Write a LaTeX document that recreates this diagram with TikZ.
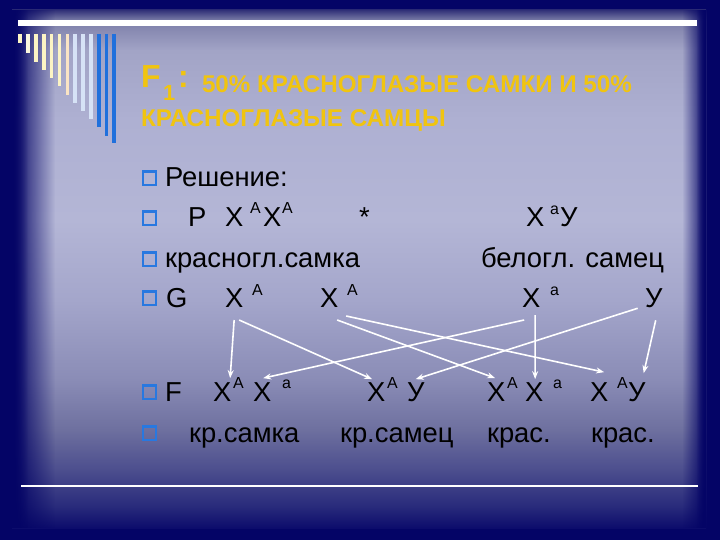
\documentclass[tikz,border=0pt]{standalone}
\usepackage{fontspec}
\setmainfont{Liberation Sans}
\usetikzlibrary{arrows.meta,fadings}
\definecolor{navy}{RGB}{4,4,102}
\definecolor{gold}{RGB}{240,196,16}
\definecolor{bulblue}{RGB}{40,120,224}
\definecolor{cA}{RGB}{12,12,108}
\definecolor{cB}{RGB}{42,44,124}
\definecolor{cC}{RGB}{76,78,142}
\definecolor{cD}{RGB}{110,112,159}
\definecolor{cE}{RGB}{138,140,182}
\definecolor{cF}{RGB}{164,166,203}
\definecolor{cG}{RGB}{180,182,214}
\definecolor{cH}{RGB}{174,176,210}
\definecolor{cI}{RGB}{162,164,198}
\definecolor{cJ}{RGB}{124,126,168}
\definecolor{cK}{RGB}{48,48,120}
\definecolor{stw}{RGB}{252,248,222}
\definecolor{stc}{RGB}{252,244,196}
\definecolor{stp}{RGB}{250,228,196}
\definecolor{stl}{RGB}{214,226,246}
\definecolor{stb}{RGB}{32,112,220}
\pgfdeclareverticalshading{bgv}{100bp}{color(0bp)=(cA); color(25bp)=(cA); color(27.2bp)=(cB); color(30.6bp)=(cC); color(34.5bp)=(cD); color(39.3bp)=(cE); color(47bp)=(cF); color(54.7bp)=(cG); color(64.4bp)=(cH); color(71.1bp)=(cI); color(74bp)=(cJ); color(75bp)=(cK); color(100bp)=(cK)}
\tikzset{
  txt/.style={anchor=base west, inner sep=0, outer sep=0, font=\fontsize{27.5}{32}\selectfont, text=black},
  sup/.style={anchor=base west, inner sep=0, outer sep=0, font=\fontsize{16}{19}\selectfont, text=black},
  ttl/.style={anchor=base west, inner sep=0, outer sep=0, font=\bfseries\fontsize{24.3}{28}\selectfont, text=gold},
  bul/.style={draw=bulblue, line width=2.2bp, minimum size=13.5bp, inner sep=0},
  arr/.style={draw=white, line width=1.6bp, -{Stealth[length=8bp,width=6bp]}},
  stripe/.style={line width=3.6bp}
}
\begin{document}
\begin{tikzpicture}[x=1bp,y=-1bp]
\useasboundingbox (0,0) rectangle (720,540);
% background frame
\fill[navy] (0,0) rectangle (720,540);
\shade[shading=bgv] (12,10) rectangle (706,528);
\fill[navy, path fading=east] (12,10) rectangle (55,528);
\fill[navy, path fading=east] (12,10) rectangle (28,528);
\fill[navy, path fading=west] (682,10) rectangle (706,528);
\fill[navy, path fading=west] (696,10) rectangle (706,528);
% top bar and stripes
\fill[white] (18,20.5) rectangle (697,26.5);
\foreach \xx/\yy/\cc in {20/43/stc,28/53/stw,36/62/stc,44/70/stc,51.5/78/stc,59.5/86/stc,67.5/95/stp,75/103/stl,83/111/stl,91/119/stl,99/127/stb,106.5/136/stb,114/143/stb}
  \draw[stripe,\cc] (\xx,34) -- (\xx,\yy);
% bottom line
\draw[white, line width=1.3bp] (21,486) -- (698,486);
% title
\node[anchor=base west, inner sep=0, font=\bfseries\fontsize{32}{38}\selectfont, text=gold] (tF) at (141,88) {F};
\node[anchor=base west, inner sep=0, font=\bfseries\fontsize{22}{26}\selectfont, text=gold] (t1) at (163,101) {1};
\node[anchor=base west, inner sep=0, font=\bfseries\fontsize{32}{38}\selectfont, text=gold] (tc) at (178,88) {:};
\node[ttl] (tl1) at (202,93) {50\% КРАСНОГЛАЗЫЕ САМКИ И 50\%};
\node[ttl] (tl2) at (141,127) {КРАСНОГЛАЗЫЕ САМЦЫ};
% bullets
\node[bul] (b1) at (149.5,178.3) {};
\node[bul] (b2) at (149.5,218.3) {};
\node[bul] (b3) at (149.5,259.3) {};
\node[bul] (b4) at (149.5,298.3) {};
\node[bul] (b5) at (149.5,392.3) {};
\node[bul] (b6) at (149.5,433.3) {};
% row 1
\node[txt] (r1) at (165,187) {Решение:};
% row 2
\node[txt] (pP) at (188,227) {P};
\node[txt] (pX1) at (225,227) {X};
\node[sup] (pA1) at (250,214) {A};
\node[txt] (pX2) at (263,227) {X};
\node[sup] (pA2) at (282,214) {A};
\node[txt] (ast) at (359,227) {*};
\node[txt] (pX3) at (526,227) {X};
\node[sup] (pa3) at (550,215) {а};
\node[txt] (pY) at (560,227) {У};
% row 3
\node[txt] (r3a) at (165,268) {красногл.самка};
\node[txt] (r3b) at (481,268) {белогл. самец};
% row 4 gametes
\node[txt] (gG) at (166,307) {G};
\node[txt] (gX1) at (225,307) {X};
\node[sup] (gA1) at (252,295) {A};
\node[txt] (gX2) at (320,307) {X};
\node[sup] (gA2) at (347,295) {A};
\node[txt] (gXa) at (522,307) {X};
\node[sup] (gaa) at (550,295) {а};
\node[txt] (gY) at (645,307) {У};
% row 5 offspring
\node[txt] (fF) at (165,401) {F};
\node[txt] (f1X1) at (213,401) {X};
\node[sup] (f1A) at (233,388) {A};
\node[txt] (f1X2) at (253,401) {X};
\node[sup] (f1a) at (282,388) {а};
\node[txt] (f2X) at (367,401) {X};
\node[sup] (f2A) at (387,388) {A};
\node[txt] (f2Y) at (407,401) {У};
\node[txt] (f3X1) at (487,401) {X};
\node[sup] (f3A) at (507,388) {A};
\node[txt] (f3X2) at (525,401) {X};
\node[sup] (f3a) at (553,388) {а};
\node[txt] (f4X) at (590,401) {X};
\node[sup] (f4A) at (617,388) {A};
\node[txt] (f4Y) at (628,401) {У};
% row 6
\node[txt] (p1) at (189,442) {кр.самка};
\node[txt] (p2) at (340,442) {кр.самец};
\node[txt] (p3) at (487,442) {крас.};
\node[txt] (p4) at (591,442) {крас.};
% arrows
\draw[arr] ([yshift=-13bp]gX1.south) -- ([xshift=8bp,yshift=4bp]f1X1.north);
\draw[arr] ([xshift=5bp,yshift=-13bp]gX1.south) -- ([xshift=-4bp,yshift=3bp]f2X.north);
\draw[arr] ([xshift=8bp,yshift=-13bp]gX2.south) -- ([xshift=-1bp,yshift=4bp]f3X1.north);
\draw[arr] ([xshift=17bp,yshift=-9bp]gX2.south) -- ([xshift=5bp,yshift=10bp]f4X.north);
\draw[arr] ([xshift=-7bp,yshift=-13bp]gXa.south) -- ([xshift=1bp,yshift=4bp]f1X2.north);
\draw[arr] ([xshift=4bp,yshift=-8bp]gXa.south) -- ([xshift=1bp,yshift=3bp]f3X2.north);
\draw[arr] ([xshift=-16bp,yshift=-1bp]gY.south) -- ([yshift=3bp]f2Y.north);
\draw[arr] ([xshift=2bp,yshift=-13bp]gY.south) -- ([xshift=7bp,yshift=9bp]f4Y.north);
\end{tikzpicture}
\end{document}
